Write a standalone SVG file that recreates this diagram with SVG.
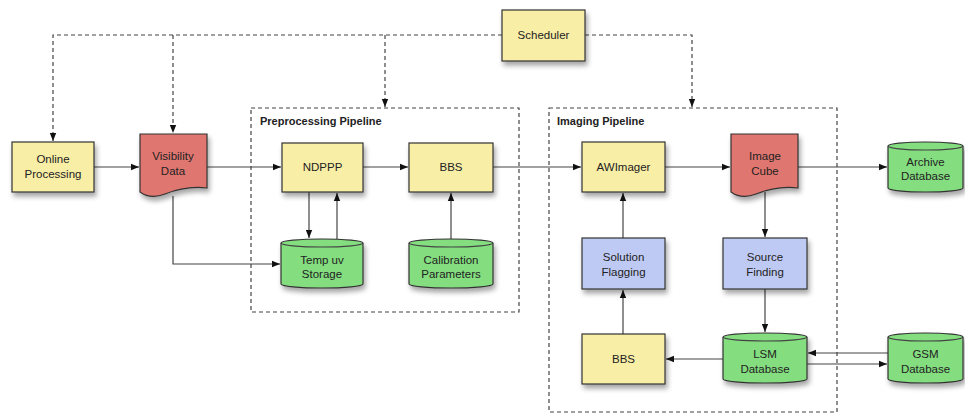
<svg xmlns="http://www.w3.org/2000/svg" width="965" height="414" viewBox="0 0 965 414">
<style>
text{font-family:"Liberation Sans",Arial,sans-serif;font-size:11.5px;fill:#222;text-anchor:middle}
.t{font-weight:bold;text-anchor:start;font-size:11px}
.y{fill:#f8eea6;stroke:#333;stroke-width:1.2}
.r{fill:#e0766f;stroke:#333;stroke-width:1.2}
.g{fill:#84de80;stroke:#333;stroke-width:1.2}
.b{fill:#bfcaf4;stroke:#333;stroke-width:1.2}
.c{fill:none;stroke:#444;stroke-width:1.2}
.d{fill:none;stroke:#444;stroke-width:1.2;stroke-dasharray:4 3}
</style>
<defs>
<marker id="a" viewBox="0 0 10 10" refX="10" refY="5" markerWidth="8" markerHeight="8" markerUnits="userSpaceOnUse" orient="auto"><path d="M0,1 L10,5 L0,9 z" fill="#111"/></marker>
<filter id="s" x="-10%" y="-10%" width="130%" height="140%"><feDropShadow dx="2" dy="4" stdDeviation="2.5" flood-color="#000" flood-opacity="0.35"/></filter>
</defs>
<g id="containers">
<rect class="d" x="251" y="108" width="268" height="204"/>
<text class="t" x="260" y="125">Preprocessing Pipeline</text>
<rect class="d" x="549" y="108" width="288" height="304"/>
<text class="t" x="557" y="125">Imaging Pipeline</text>
</g>
<g id="connectors">
<path class="d" d="M502,35 H53 V141" marker-end="url(#a)"/>
<path class="d" d="M173,35 V133" marker-end="url(#a)"/>
<path class="d" d="M385,35 V107" marker-end="url(#a)"/>
<path class="d" d="M585,35 H692 V107" marker-end="url(#a)"/>
<path class="c" d="M94,167 H139" marker-end="url(#a)"/>
<path class="c" d="M207,167 H281" marker-end="url(#a)"/>
<path class="c" d="M363,167 H408" marker-end="url(#a)"/>
<path class="c" d="M493,167 H581" marker-end="url(#a)"/>
<path class="c" d="M665,167 H730" marker-end="url(#a)"/>
<path class="c" d="M798,167 H887" marker-end="url(#a)"/>
<path class="c" d="M309,192 V238" marker-end="url(#a)"/>
<path class="c" d="M337,239 V193" marker-end="url(#a)"/>
<path class="c" d="M173,196 V264 H280" marker-end="url(#a)"/>
<path class="c" d="M451,239 V193" marker-end="url(#a)"/>
<path class="c" d="M623,238 V193" marker-end="url(#a)"/>
<path class="c" d="M623,334 V290" marker-end="url(#a)"/>
<path class="c" d="M765,192 V237" marker-end="url(#a)"/>
<path class="c" d="M765,289 V332" marker-end="url(#a)"/>
<path class="c" d="M723,359 H666" marker-end="url(#a)"/>
<path class="c" d="M888,353 H808" marker-end="url(#a)"/>
<path class="c" d="M807,364 H887" marker-end="url(#a)"/>
</g>
<g id="scheduler"><rect class="y" filter="url(#s)" x="502" y="10" width="83" height="51"/><text x="543.5" y="39">Scheduler</text></g>
<g id="online-processing"><rect class="y" filter="url(#s)" x="12" y="142" width="82" height="50"/><text x="53" y="163">Online</text><text x="53" y="178">Processing</text></g>
<g id="visibility-data"><path class="r" filter="url(#s)" d="M140,134 H207 V188 C190,186 175,190 165,194 C155,198 147,197 140,192 Z"/><text x="173" y="160">Visibility</text><text x="173" y="175">Data</text></g>
<g id="ndppp"><rect class="y" filter="url(#s)" x="282" y="143" width="81" height="49"/><text x="322.5" y="171">NDPPP</text></g>
<g id="bbs1"><rect class="y" filter="url(#s)" x="409" y="143" width="84" height="49"/><text x="451" y="171">BBS</text></g>
<g id="temp-uv-storage"><path class="g" filter="url(#s)" d="M281,243 A41,4 0 0 1 363,243 V284 A41,4 0 0 1 281,284 Z"/><path class="c" d="M281,243 A41,4 0 0 0 363,243"/><text x="322" y="264">Temp uv</text><text x="322" y="278">Storage</text></g>
<g id="calibration-parameters"><path class="g" filter="url(#s)" d="M409,243 A42,4 0 0 1 493,243 V284 A42,4 0 0 1 409,284 Z"/><path class="c" d="M409,243 A42,4 0 0 0 493,243"/><text x="451" y="264">Calibration</text><text x="451" y="278">Parameters</text></g>
<g id="awimager"><rect class="y" filter="url(#s)" x="582" y="142" width="83" height="50"/><text x="623.5" y="171">AWImager</text></g>
<g id="image-cube"><path class="r" filter="url(#s)" d="M731,134 H798 V188 C781,186 766,190 756,194 C746,198 738,197 731,192 Z"/><text x="765" y="160">Image</text><text x="765" y="175">Cube</text></g>
<g id="archive-database"><path class="g" filter="url(#s)" d="M888,146 A37.5,4 0 0 1 963,146 V188 A37.5,4 0 0 1 888,188 Z"/><path class="c" d="M888,146 A37.5,4 0 0 0 963,146"/><text x="925.5" y="166">Archive</text><text x="925.5" y="180">Database</text></g>
<g id="solution-flagging"><rect class="b" filter="url(#s)" x="582" y="238" width="83" height="51"/><text x="623.5" y="261">Solution</text><text x="623.5" y="276">Flagging</text></g>
<g id="source-finding"><rect class="b" filter="url(#s)" x="723" y="238" width="84" height="51"/><text x="765" y="261">Source</text><text x="765" y="276">Finding</text></g>
<g id="bbs2"><rect class="y" filter="url(#s)" x="582" y="334" width="83" height="50"/><text x="623.5" y="363">BBS</text></g>
<g id="lsm-database"><path class="g" filter="url(#s)" d="M723,337 A42,4 0 0 1 807,337 V379 A42,4 0 0 1 723,379 Z"/><path class="c" d="M723,337 A42,4 0 0 0 807,337"/><text x="765" y="358">LSM</text><text x="765" y="373">Database</text></g>
<g id="gsm-database"><path class="g" filter="url(#s)" d="M888,337 A37.5,4 0 0 1 963,337 V379 A37.5,4 0 0 1 888,379 Z"/><path class="c" d="M888,337 A37.5,4 0 0 0 963,337"/><text x="925.5" y="358">GSM</text><text x="925.5" y="373">Database</text></g>
</svg>
